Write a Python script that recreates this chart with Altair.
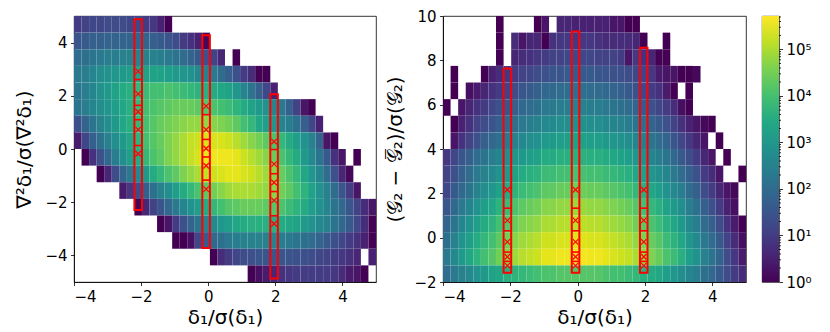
import math
import altair as alt
import pandas as pd

N = None

# ---- histogram binning (40 x-bins over [-4, 5], 16 y-bins per panel) ----
X_START = -4.0
BIN_W = 0.225
LEFT_Y_TOP, LEFT_ROW_H = 5.0, 0.625
RIGHT_Y_TOP, RIGHT_ROW_H = 10.0, 0.75

# log10(counts), rows listed from top to bottom, 40 columns each (None = empty bin)
LEFT_LOG10 = [
    [1.0, 1.1, 1.2, 1.2, 1.3, 1.3, 1.3, 1.2, 1.2, 1.0, 0.9, 0.5, 0.0] + [N] * 27,
    [1.5, 1.6, 1.7, 1.7, 1.8, 1.8, 1.8, 1.8, 1.8, 1.8, 1.7, 1.6, 1.5, 1.3, 1.0, 0.8, 0.5, 0.1] + [N] * 22,
    [2.0, 2.1, 2.2, 2.3, 2.4, 2.4, 2.5, 2.5, 2.5, 2.5, 2.5, 2.4, 2.3, 2.2, 2.0, 1.8, 1.6, 1.4, 1.1, 0.6, N, 0.0] + [N] * 18,
    [2.3, 2.4, 2.6, 2.8, 2.9, 3.0, 3.1, 3.2, 3.3, 3.3, 3.3, 3.3, 3.2, 3.1, 3.0, 2.9, 2.7, 2.5, 2.3, 2.0, 1.7, 1.4, 1.0, 0.7, 0.0, 0.0] + [N] * 14,
    [2.2, 2.4, 2.6, 2.9, 3.1, 3.3, 3.5, 3.6, 3.8, 3.9, 4.0, 4.0, 4.1, 4.0, 3.9, 3.8, 3.7, 3.6, 3.5, 3.4, 3.3, 3.0, 2.6, 2.2, 1.7, 1.2, 0.5] + [N] * 13,
    [2.2, 2.4, 2.6, 2.8, 3.0, 3.2, 3.4, 3.6, 3.8, 4.0, 4.1, 4.2, 4.3, 4.4, 4.4, 4.4, 4.3, 4.2, 4.1, 4.0, 3.9, 3.7, 3.5, 3.3, 3.1, 2.9, 2.6, 2.3, 1.7, 1.1, 0.3, 0.0] + [N] * 8,
    [1.4, 1.8, 2.2, 2.5, 2.8, 3.1, 3.4, 3.6, 3.8, 4.0, 4.2, 4.4, 4.5, 4.6, 4.7, 4.8, 4.8, 4.8, 4.7, 4.6, 4.5, 4.3, 4.0, 3.8, 3.4, 3.2, 3.0, 2.6, 2.4, 2.1, 1.7, 1.2, 0.5] + [N] * 7,
    [0.4, 1.2, 1.7, 2.1, 2.5, 2.8, 3.1, 3.4, 3.7, 4.0, 4.2, 4.4, 4.6, 4.8, 5.0, 5.2, 5.3, 5.4, 5.4, 5.4, 5.3, 5.1, 4.9, 4.7, 4.5, 4.3, 4.1, 3.8, 3.5, 3.2, 2.9, 2.5, 1.8, 0.3, 0.0] + [N] * 5,
    [N, 0.0, 0.8, 1.4, 1.9, 2.4, 2.8, 3.2, 3.5, 3.8, 4.1, 4.3, 4.6, 4.8, 5.0, 5.2, 5.4, 5.5, 5.6, 5.6, 5.6, 5.5, 5.3, 5.1, 4.9, 4.7, 4.4, 4.1, 3.8, 3.5, 3.1, 2.7, 2.2, 1.6, 0.8, 0.3, N, 0.0, N, N],
    [N, N, N, 0.0, 0.6, 1.3, 1.8, 2.3, 2.7, 3.1, 3.5, 3.8, 4.1, 4.3, 4.6, 4.8, 5.0, 5.2, 5.3, 5.4, 5.5, 5.5, 5.4, 5.3, 5.1, 4.9, 4.7, 4.4, 4.1, 3.8, 3.4, 3.0, 2.6, 2.0, 1.4, 0.6, 0.1, N, N, N],
    [N] * 6 + [0.4, 0.9, 1.3, 1.7, 2.1, 2.5, 2.8, 3.2, 3.5, 3.8, 4.1, 4.3, 4.5, 4.7, 4.9, 5.0, 5.0, 5.0, 4.9, 4.8, 4.7, 4.5, 4.3, 4.0, 3.7, 3.3, 2.9, 2.5, 2.0, 1.5, 1.0, 0.3] + [N] * 2,
    [N] * 8 + [0.0, 0.6, 1.1, 1.5, 1.9, 2.3, 2.6, 2.9, 3.2, 3.5, 3.8, 4.0, 4.2, 4.3, 4.4, 4.4, 4.4, 4.3, 4.2, 4.1, 3.9, 3.7, 3.5, 3.2, 2.9, 2.6, 2.2, 1.9, 1.5, 1.1, 0.7, 0.3],
    [N] * 11 + [0.0, 0.3, 1.0, 1.4, 1.8, 2.2, 2.5, 2.7, 3.0, 3.2, 3.4, 3.5, 3.6, 3.6, 3.6, 3.6, 3.5, 3.4, 3.3, 3.1, 2.9, 2.7, 2.5, 2.2, 1.9, 1.6, 1.2, 0.7, 0.0],
    [N] * 13 + [0.0, 0.0, 0.2, 1.2, 1.6, 1.9, 2.1, 2.3, 2.4, 2.5, 2.5, 2.5, 2.5, 2.5, 2.4, 2.3, 2.2, 2.1, 2.0, 1.8, 1.6, 1.4, 1.2, 1.0, 0.8, 0.5, 0.0],
    [N] * 18 + [0.0, 0.7, 1.0, 1.2, 1.3, 1.4, 1.5, 1.5, 1.5, 1.5, 1.5, 1.4, 1.4, 1.3, 1.2, 1.1, 1.0, 0.9, 0.8, 0.6] + [N, 0.5],
    [N] * 23 + [0.0, 0.2, 0.4, 0.6, 0.8, 0.9, 1.0, 1.0, 1.0, 1.0, 1.0, 0.9, 0.7, 0.4, 0.3, 0.0] + [N],
]

RIGHT_LOG10 = [
    [N] * 7 + [0.0] + [N] * 4 + [0.0, 0.3, N, 0.6, 0.6, 0.5, 0.5, 0.5, 0.5, 0.5, 0.3, 0.3, 0.0, 0.0] + [N] * 14,
    [N] * 7 + [0.0, N, 0.7, 0.3, 0.6, 0.6, 0.0, 0.8, 0.9, 0.9, 0.9, 0.9, 0.9, 0.8, 0.7, 0.7, 0.7, 0.7, 0.6, 0.0, N, N, 0.0] + [N] * 10,
    [N] * 7 + [0.0, N, 0.6, 0.7, 0.8, 0.9, 1.0, 1.1, 1.1, 1.2, 1.2, 1.2, 1.2, 1.1, 1.1, 1.1, 1.0, 0.3, 0.9, 0.8, 0.6, 0.0, 0.0] + [N] * 10,
    [N, 0.0, N, N, N, 0.0, 0.5, 0.7, 0.9, 1.0, 1.1, 1.2, 1.3, 1.4, 1.5, 1.5, 1.6, 1.6, 1.6, 1.6, 1.5, 1.5, 1.4, 1.4, 1.3, 1.2, 1.1, 0.9, 0.4, 0.3, 0.3, 0.0, 0.0, 0.1] + [N] * 6,
    [N, 0.0, N, 0.2, 0.4, 0.6, 0.8, 1.0, 1.1, 1.3, 1.5, 1.6, 1.7, 1.9, 1.9, 2.0, 2.0, 2.05, 2.05, 2.0, 2.0, 1.9, 1.8, 1.7, 1.6, 1.4, 1.2, 1.0, 0.8, 0.4, 0.0, N, 0.0] + [N] * 7,
    [0.0, N, 0.3, 0.6, 0.8, 1.0, 1.2, 1.4, 1.5, 1.7, 1.9, 2.0, 2.1, 2.3, 2.3, 2.4, 2.4, 2.45, 2.45, 2.4, 2.4, 2.3, 2.2, 2.1, 2.0, 1.8, 1.6, 1.4, 1.2, 1.0, 0.7, 0.2, 0.0] + [N] * 7,
    [N, 0.0, 0.5, 0.8, 1.1, 1.3, 1.5, 1.7, 1.9, 2.1, 2.3, 2.4, 2.5, 2.7, 2.7, 2.8, 2.8, 2.85, 2.85, 2.8, 2.8, 2.7, 2.6, 2.5, 2.4, 2.2, 2.0, 1.8, 1.6, 1.4, 1.1, 0.8, 0.5, 0.3, 0.1, 0.0] + [N] * 4,
    [N, 0.3, 0.8, 1.1, 1.4, 1.7, 1.9, 2.1, 2.3, 2.5, 2.7, 2.8, 2.9, 3.1, 3.1, 3.2, 3.2, 3.25, 3.25, 3.2, 3.2, 3.1, 3.0, 2.9, 2.8, 2.6, 2.4, 2.2, 2.0, 1.8, 1.5, 1.2, 0.9, 0.6, 0.3, N, 0.0, N, N, N],
    [0.9, 1.2, 1.5, 1.7, 2.0, 2.2, 2.4, 2.6, 2.8, 3.0, 3.1, 3.2, 3.3, 3.5, 3.5, 3.6, 3.6, 3.65, 3.65, 3.6, 3.6, 3.5, 3.4, 3.3, 3.2, 3.0, 2.8, 2.6, 2.4, 2.2, 1.9, 1.6, 1.3, 1.0, 0.6, 0.3, N, 0.0, N, N],
    [1.1, 1.4, 1.7, 2.0, 2.3, 2.5, 2.7, 2.9, 3.1, 3.3, 3.5, 3.6, 3.7, 3.9, 3.9, 4.0, 4.0, 4.05, 4.05, 4.0, 4.0, 3.9, 3.8, 3.7, 3.6, 3.4, 3.2, 3.0, 2.8, 2.6, 2.3, 2.0, 1.7, 1.4, 1.0, 0.7, 0.3, N, N, 0.0],
    [1.2, 1.6, 1.9, 2.2, 2.5, 2.8, 3.0, 3.3, 3.5, 3.7, 3.9, 4.0, 4.1, 4.3, 4.3, 4.4, 4.4, 4.45, 4.45, 4.4, 4.4, 4.3, 4.2, 4.1, 4.0, 3.8, 3.6, 3.4, 3.2, 2.9, 2.7, 2.4, 2.0, 1.7, 1.3, 1.0, 0.6, 0.3, 0.1, N],
    [1.5, 1.9, 2.3, 2.6, 2.9, 3.2, 3.4, 3.7, 3.9, 4.1, 4.3, 4.4, 4.5, 4.7, 4.7, 4.8, 4.8, 4.85, 4.85, 4.8, 4.8, 4.7, 4.6, 4.5, 4.4, 4.2, 4.0, 3.8, 3.6, 3.3, 3.1, 2.8, 2.4, 2.1, 1.7, 1.4, 1.0, 0.5, 0.2, N],
    [1.8, 2.2, 2.6, 2.9, 3.2, 3.5, 3.7, 4.0, 4.2, 4.4, 4.6, 4.7, 4.8, 5.0, 5.0, 5.1, 5.1, 5.15, 5.15, 5.1, 5.1, 5.0, 4.9, 4.8, 4.7, 4.5, 4.3, 4.1, 3.9, 3.6, 3.4, 3.1, 2.7, 2.4, 2.0, 1.7, 1.3, 0.8, 0.4, 0.0],
    [2.1, 2.5, 2.9, 3.2, 3.5, 3.8, 4.0, 4.3, 4.5, 4.7, 4.9, 5.0, 5.1, 5.3, 5.3, 5.4, 5.4, 5.45, 5.45, 5.4, 5.4, 5.3, 5.2, 5.1, 5.0, 4.8, 4.6, 4.4, 4.2, 3.9, 3.7, 3.4, 3.0, 2.7, 2.3, 2.0, 1.6, 1.1, 0.7, 0.2],
    [2.3, 2.7, 3.1, 3.4, 3.7, 4.0, 4.2, 4.5, 4.7, 4.9, 5.1, 5.2, 5.3, 5.5, 5.5, 5.6, 5.6, 5.65, 5.65, 5.6, 5.6, 5.5, 5.4, 5.3, 5.2, 5.0, 4.8, 4.6, 4.4, 4.1, 3.9, 3.6, 3.2, 2.9, 2.5, 2.2, 1.8, 1.3, 0.9, 0.4],
    [2.0, 2.3, 2.5, 2.7, 2.9, 3.1, 3.3, 3.4, 3.6, 3.7, 3.8, 3.9, 4.0, 4.1, 4.1, 4.2, 4.2, 4.2, 4.2, 4.2, 4.2, 4.1, 4.0, 4.0, 3.9, 3.8, 3.6, 3.5, 3.4, 3.2, 3.0, 2.8, 2.6, 2.4, 2.1, 1.9, 1.6, 1.3, 1.0, 0.7],
]

# ---- red overlays: one bin column each, with markers and separator lines ----
BOX_COLS = [8, 17, 26]
LEFT_BOX_TOP = [4.88, 4.28, 2.06]
LEFT_BOX_BOTTOM = [-2.29, -3.72, -4.87]
LEFT_MARKERS = [
    [2.92, 2.07, 1.40, 0.73, -0.18],
    [1.61, 0.73, 0.02, -0.63, -1.51],
    [0.28, -0.57, -1.26, -1.93, -2.81],
]
LEFT_LINES = [
    [2.61, 1.64, 1.10, 0.13],
    [1.29, 0.36, -0.30, -1.17],
    [-0.02, -0.93, -1.60, -2.51],
]
RIGHT_BOX_TOP = [7.63, 9.30, 8.57]
RIGHT_BOX_BOTTOM = [-1.58, -1.58, -1.58]
RIGHT_MARKERS = [
    [2.16, 0.78, -0.19, -0.86, -1.26],
    [2.16, 0.78, -0.19, -0.86, -1.26],
    [2.16, 0.78, -0.19, -0.86, -1.26],
]
RIGHT_LINES = [
    [1.33, 0.31, -0.65, -1.07],
    [1.33, 0.31, -0.65, -1.07],
    [1.33, 0.31, -0.65, -1.07],
]

X_TICKS = [-4, -2, 0, 2, 4]
LEFT_Y_TICKS = [-4, -2, 0, 2, 4]
RIGHT_Y_TICKS = [-2, 0, 2, 4, 6, 8, 10]
CBAR_MAX = 5.72
CBAR_MAJOR = [0, 1, 2, 3, 4, 5]
VIRIDIS = ["#440154", "#482475", "#414487", "#355f8d", "#2a788e", "#21918c",
           "#22a884", "#44bf70", "#7ad151", "#bddf26", "#fde725"]

X_TITLE = "δ₁/σ(δ₁)"
LEFT_Y_TITLE = "∇²δ₁/σ(∇²δ₁)"
RIGHT_Y_TITLE = "(𝒢₂ − 𝒢̅₂)/σ(𝒢₂)"

H = 266
FONT = "DejaVu Sans"
XPATH = "M-1,-1L1,1M-1,1L1,-1"


def heat_frame(rows, ytop, rowh):
    recs = []
    for r, row in enumerate(rows):
        for k, v in enumerate(row):
            if v is None:
                continue
            recs.append({"x0": X_START + k * BIN_W, "x1": X_START + (k + 1) * BIN_W,
                         "y0": ytop - (r + 1) * rowh, "y1": ytop - r * rowh, "v": v})
    return pd.DataFrame(recs)


def overlay_frames(tops, bottoms, markers, lines):
    boxes, mk, ln = [], [], []
    for i, k in enumerate(BOX_COLS):
        x0, x1 = X_START + k * BIN_W, X_START + (k + 1) * BIN_W
        boxes.append({"x0": x0, "x1": x1, "yt": tops[i], "yb": bottoms[i]})
        for y in markers[i]:
            mk.append({"xc": (x0 + x1) / 2, "y": y})
        for y in lines[i]:
            ln.append({"x0": x0, "x1": x1, "y": y})
    return pd.DataFrame(boxes), pd.DataFrame(mk), pd.DataFrame(ln)


def panel(rows, ytop, rowh, ydom, yticks, ytitle, tops, bottoms, markers, lines, width, ytp):
    xs = alt.Scale(domain=[-4, 5], nice=False, zero=False)
    ys = alt.Scale(domain=ydom, nice=False, zero=False)
    xax = alt.Axis(values=X_TICKS, titlePadding=3)
    yax = alt.Axis(values=yticks, titlePadding=ytp)
    df = heat_frame(rows, ytop, rowh)
    bdf, mdf, ldf = overlay_frames(tops, bottoms, markers, lines)
    heat = alt.Chart(df).mark_rect(stroke="white", strokeWidth=0.4, strokeOpacity=0.07).encode(
        x=alt.X("x0:Q", scale=xs, axis=xax, title=X_TITLE),
        x2="x1:Q",
        y=alt.Y("y0:Q", scale=ys, axis=yax, title=ytitle),
        y2="y1:Q",
        color=alt.Color("v:Q", scale=alt.Scale(scheme="viridis", domain=[0, CBAR_MAX]), legend=None),
    )
    box = alt.Chart(bdf).mark_rect(filled=False, color="#ff0000", strokeWidth=2).encode(
        x=alt.X("x0:Q", title=X_TITLE), x2="x1:Q",
        y=alt.Y("yb:Q", title=ytitle), y2="yt:Q",
    )
    rule = alt.Chart(ldf).mark_rule(color="#ff0000", strokeWidth=1.6).encode(
        x=alt.X("x0:Q", title=X_TITLE), x2="x1:Q",
        y=alt.Y("y:Q", title=ytitle),
    )
    pts = alt.Chart(mdf).mark_point(shape=XPATH, filled=False, color="#ff0000", size=30,
                                    strokeWidth=1.2, opacity=1).encode(
        x=alt.X("xc:Q", title=X_TITLE),
        y=alt.Y("y:Q", title=ytitle),
    )
    return alt.layer(heat, box, rule, pts).properties(width=width, height=H)


left = panel(LEFT_LOG10, LEFT_Y_TOP, LEFT_ROW_H, [-5, 5], LEFT_Y_TICKS, LEFT_Y_TITLE,
             LEFT_BOX_TOP, LEFT_BOX_BOTTOM, LEFT_MARKERS, LEFT_LINES, 302, 10)
right = panel(RIGHT_LOG10, RIGHT_Y_TOP, RIGHT_ROW_H, [-2, 10], RIGHT_Y_TICKS, RIGHT_Y_TITLE,
              RIGHT_BOX_TOP, RIGHT_BOX_BOTTOM, RIGHT_MARKERS, RIGHT_LINES, 303, 8)

# ---- colour bar ----
cbs = alt.Scale(domain=[0, CBAR_MAX], nice=False, zero=False)
CBAR_MINOR = [n + math.log10(m) for n in range(6) for m in range(2, 10) if n + math.log10(m) < CBAR_MAX]
grad = alt.Gradient(gradient="linear", x1=0, x2=0, y1=1, y2=0,
                    stops=[alt.GradientStop(offset=i / 10, color=c) for i, c in enumerate(VIRIDIS)])
cb_rect = alt.Chart(pd.DataFrame({"lo": [0.0], "hi": [CBAR_MAX]})).mark_rect(fill=grad).encode(
    x=alt.value(0), x2=alt.value(17),
    y=alt.Y("lo:Q", scale=cbs, title=None,
            axis=alt.Axis(orient="right", values=CBAR_MAJOR, domain=False, tickSize=3.5,
                          labelExpr="'10' + ['⁰','¹','²','³','⁴','⁵'][datum.value]")),
    y2="hi:Q",
)
cb_minor = alt.Chart(pd.DataFrame({"t": CBAR_MINOR})).mark_rule(color="black", strokeWidth=0.8).encode(
    x=alt.value(17), x2=alt.value(19),
    y=alt.Y("t:Q", scale=cbs, title=None),
)
cbar = alt.layer(cb_rect, cb_minor).properties(width=17, height=H)

inner = alt.hconcat(right, cbar, spacing=16, bounds="flush")
chart = alt.hconcat(left, inner, spacing=67, bounds="flush").properties(
    padding={"left": 6, "top": 0, "right": 5, "bottom": 0}
).configure_axis(
    labelFont=FONT, titleFont=FONT, labelFontSize=15, titleFontSize=20,
    titleFontWeight="normal", labelColor="black", titleColor="black",
    tickColor="black", domainColor="black", tickSize=3.5, labelPadding=3.5,
    grid=False, domainWidth=0.8, tickWidth=0.8,
).configure_view(stroke="black", strokeWidth=0.8)

chart.save("out.html", embed_options={"renderer": "svg", "actions": False})
